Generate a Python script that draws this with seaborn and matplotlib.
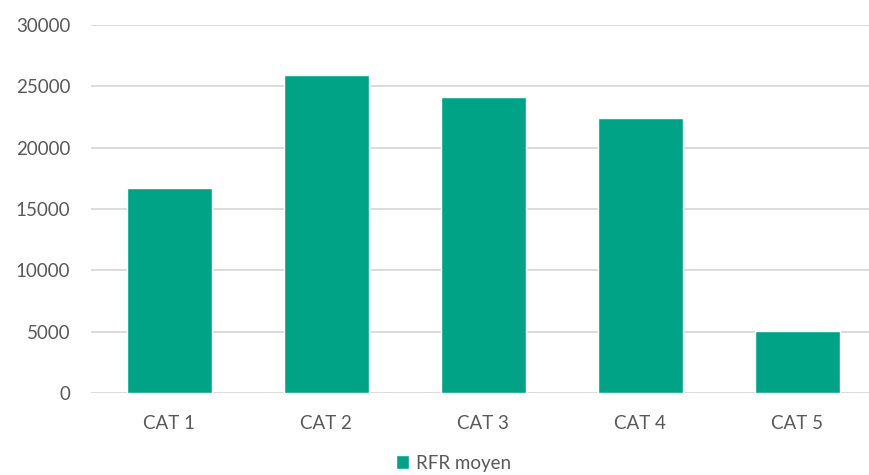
import matplotlib
matplotlib.use("Agg")
import matplotlib.pyplot as plt
import seaborn as sns
import pandas as pd

# =============================
# DATA
# =============================
categories = ["CAT 1", "CAT 2", "CAT 3", "CAT 4", "CAT 5"]
rfr_moyen = [16750, 25950, 24150, 22450, 5080]
series_name = "RFR moyen"

df = pd.DataFrame({
    "categorie": categories,
    "valeur": rfr_moyen,
    "serie": [series_name] * len(categories),
})

# =============================
# STYLE
# =============================
sns.set_theme(style="white")
plt.rcParams["font.family"] = ["Lato", "DejaVu Sans"]

BAR_COLOR = "#00A386"
TEXT_COLOR = "#595959"
GRID_COLOR = "#D9D9D9"

fig = plt.figure(figsize=(8.7, 4.75), dpi=100)
ax = fig.add_axes([0.1046, 0.173, 0.902, 0.774])

sns.barplot(
    data=df,
    x="categorie",
    y="valeur",
    hue="serie",
    palette=[BAR_COLOR],
    width=0.54,
    saturation=1,
    ax=ax,
)

ax.set_ylim(0, 30000)
ax.set_yticks(range(0, 30001, 5000))
ax.set_xlim(-0.5, len(categories) - 0.5)
ax.yaxis.grid(True, color=GRID_COLOR, linewidth=1.3)
ax.set_axisbelow(True)

for side in ["top", "right", "left", "bottom"]:
    ax.spines[side].set_visible(False)

ax.set_xlabel("")
ax.set_ylabel("")
ax.tick_params(axis="both", colors=TEXT_COLOR, labelsize=13.5, length=0)
ax.tick_params(axis="x", pad=16)
ax.tick_params(axis="y", pad=15)

ax.legend(
    loc="lower center",
    bbox_to_anchor=(0.462, -0.26),
    frameon=False,
    fontsize=13.5,
    labelcolor=TEXT_COLOR,
    handlelength=0.7,
    handleheight=0.7,
    handletextpad=0.4,
)

fig.savefig("out.png", dpi=100)
